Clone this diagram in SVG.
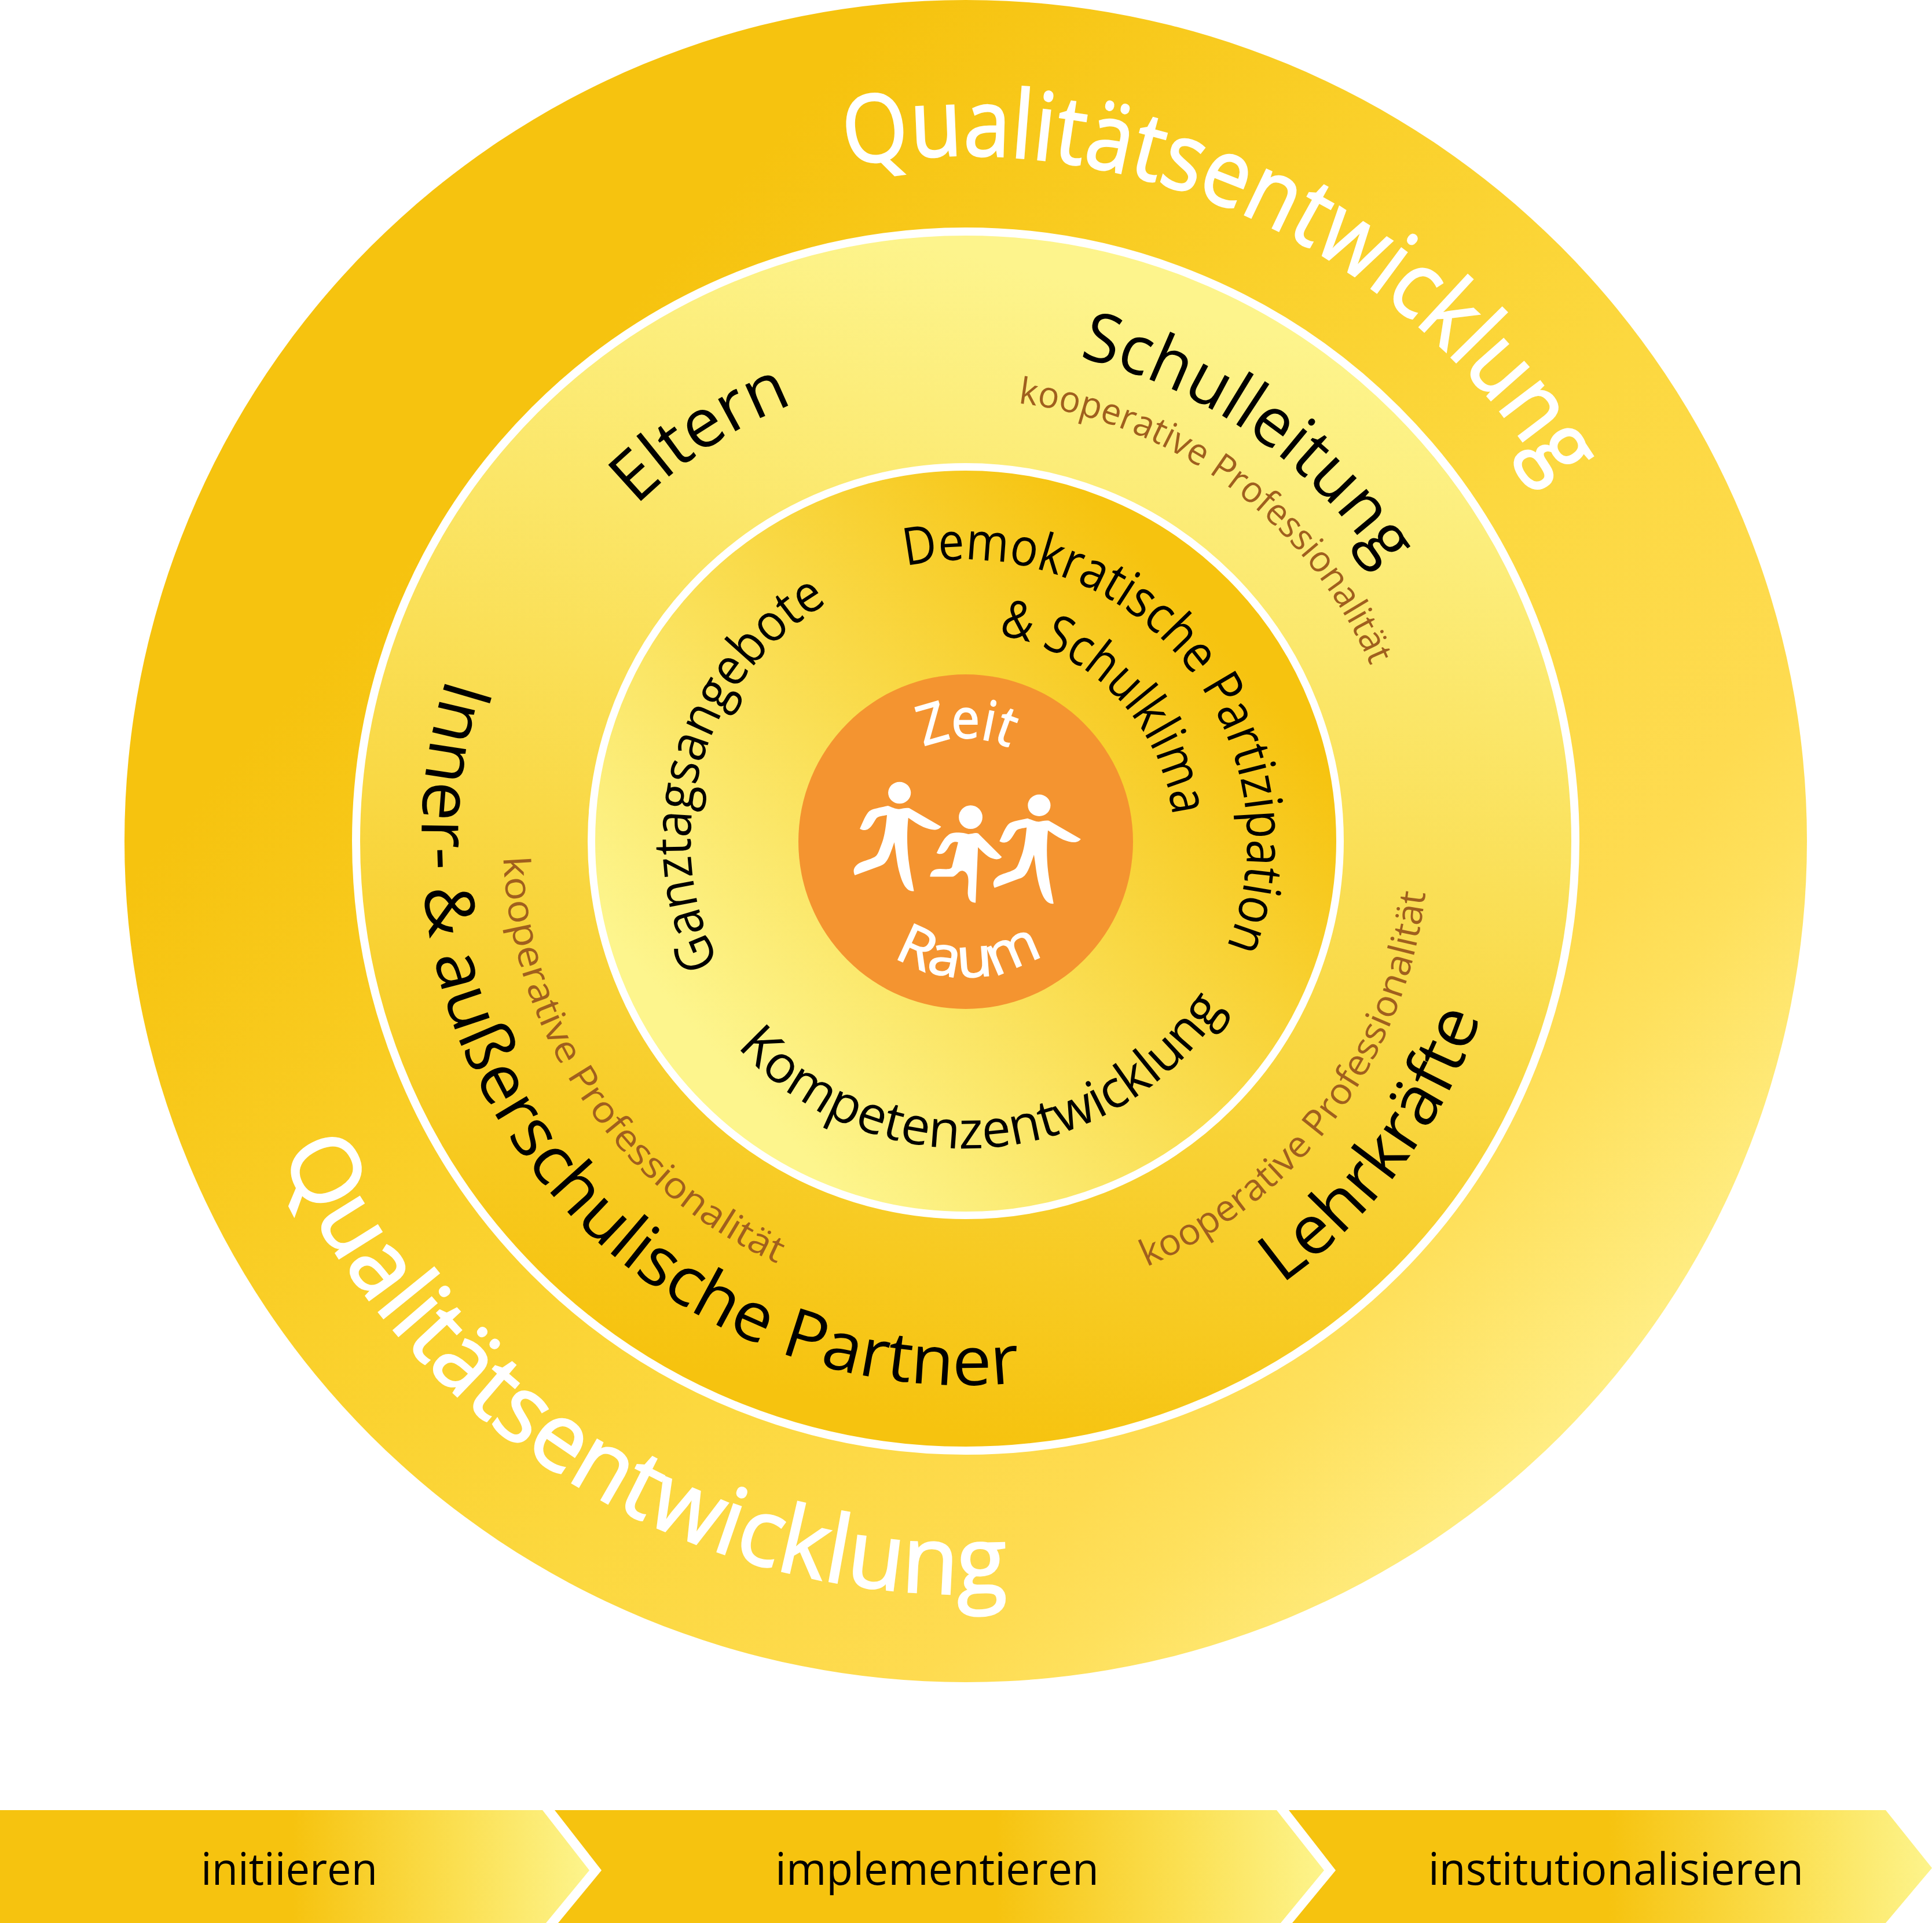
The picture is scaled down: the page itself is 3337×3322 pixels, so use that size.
<svg xmlns="http://www.w3.org/2000/svg" width="3337" height="3322" viewBox="0 0 3337 3322">
<style>
text{font-family:"Open Sans","Noto Sans","Liberation Sans",sans-serif}
.big{font-size:162px;fill:#fff;stroke:#fff;stroke-width:3}
.mid{font-size:118px;fill:#000}
.sm{font-size:63px;fill:#a05f1e}
.in{font-size:90px;fill:#000}
.core{font-size:95px;fill:#fff;stroke:#fff;stroke-width:2}
.st{font-size:76px;fill:#000}
</style>
<defs>
<linearGradient id="gO" gradientUnits="userSpaceOnUse" x1="850" y1="800" x2="2800" y2="2500"><stop offset="0" stop-color="#f6c30f"/><stop offset=".29" stop-color="#fad02a"/><stop offset=".52" stop-color="#fcd83f"/><stop offset=".75" stop-color="#fedb50"/><stop offset=".82" stop-color="#fee05c"/><stop offset="1" stop-color="#fff08c"/></linearGradient>
<linearGradient id="gM" gradientUnits="userSpaceOnUse" x1="2020" y1="530" x2="1530" y2="2450"><stop offset="0" stop-color="#fdf48c"/><stop offset="1" stop-color="#f6c30f"/></linearGradient>
<linearGradient id="gI" gradientUnits="userSpaceOnUse" x1="2040" y1="1025" x2="1190" y2="1770"><stop offset="0" stop-color="#f6c30f"/><stop offset="1" stop-color="#fdf58d"/></linearGradient>
<linearGradient id="gA1" gradientUnits="userSpaceOnUse" x1="505" y1="0" x2="1017" y2="0"><stop offset="0" stop-color="#f6c30f"/><stop offset=".55" stop-color="#fbdf50"/><stop offset="1" stop-color="#fdf48c"/></linearGradient>
<linearGradient id="gA2" gradientUnits="userSpaceOnUse" x1="1720" y1="0" x2="2287" y2="0"><stop offset="0" stop-color="#f6c30f"/><stop offset=".55" stop-color="#fbdf50"/><stop offset="1" stop-color="#fdf48c"/></linearGradient>
<linearGradient id="gA3" gradientUnits="userSpaceOnUse" x1="2778" y1="0" x2="3337" y2="0"><stop offset="0" stop-color="#f6c30f"/><stop offset=".55" stop-color="#fbdf50"/><stop offset="1" stop-color="#fdf48c"/></linearGradient>
<path id="c1184" d="M1668 269A1184 1184 0 1 1 1668 2637A1184 1184 0 1 1 1668 269"/>
<path id="a1300" d="M1668 2753A1300 1300 0 1 0 1668 153A1300 1300 0 1 0 1668 2753"/>
<path id="c858" d="M1668 595A858 858 0 1 1 1668 2311A858 858 0 1 1 1668 595"/>
<path id="c762" d="M1668 691A762 762 0 1 1 1668 2215A762 762 0 1 1 1668 691"/>
<path id="c812" d="M1668 641A812 812 0 1 1 1668 2265A812 812 0 1 1 1668 641"/>
<path id="a940" d="M1668 2393A940 940 0 1 0 1668 513A940 940 0 1 0 1668 2393"/>
<path id="a799" d="M1668 2252A799 799 0 1 0 1668 654A799 799 0 1 0 1668 2252"/>
<path id="c486" d="M1668 967A486 486 0 1 1 1668 1939A486 486 0 1 1 1668 967"/>
<path id="c360" d="M1668 1093A360 360 0 1 1 1668 1813A360 360 0 1 1 1668 1093"/>
<path id="c475" d="M1668 978A475 475 0 1 1 1668 1928A475 475 0 1 1 1668 978"/>
<path id="a531" d="M1668 1984A531 531 0 1 0 1668 922A531 531 0 1 0 1668 1984"/>
<path id="c178" d="M1668 1275A178 178 0 1 1 1668 1631A178 178 0 1 1 1668 1275"/>
<path id="a235" d="M1668 1688A235 235 0 1 0 1668 1218A235 235 0 1 0 1668 1688"/>
<g id="adult">
<ellipse cx="499" cy="538" rx="48" ry="46"/>
<path d="M331 690C345 660 355 630 372 615C385 605 420 600 450 593C465 598 480 607 497 607C510 606 525 600 540 603L675 681C660 702 630 695 600 683C575 672 555 657 536 644C530 700 530 760 537 820C543 870 552 910 560 954C535 958 515 935 500 880C488 840 484 790 477 747C465 780 455 815 440 832C432 842 425 845 410 850L310 887C300 868 305 850 330 835C350 825 385 818 400 805C410 795 415 775 425 750C438 715 442 670 446 632C430 635 410 637 402 645C390 660 385 680 365 692C353 698 342 696 331 690Z"/>
</g>
</defs>
<rect width="3337" height="3322" fill="#fff"/>
<g id="ring-outer"><circle cx="1668" cy="1453" r="1453" fill="url(#gO)"/>
<text class="big" transform="rotate(-10 1668 1453)"><textPath href="#c1184" textLength="1420" lengthAdjust="spacingAndGlyphs">Qualitätsentwicklung</textPath></text>
<text class="big" transform="rotate(65.5 1668 1453)"><textPath href="#a1300" textLength="1558" lengthAdjust="spacingAndGlyphs">Qualitätsentwicklung</textPath></text>
</g>
<g id="ring-middle"><circle cx="1668" cy="1453" r="1053" fill="url(#gM)" stroke="#fff" stroke-width="14"/>
<text class="mid" transform="rotate(13.2 1668 1453)"><textPath href="#c858" textLength="652" lengthAdjust="spacingAndGlyphs">Schulleitung</textPath></text>
<text class="sm" transform="rotate(6.8 1668 1453)"><textPath href="#c762" textLength="795" lengthAdjust="spacingAndGlyphs">kooperative Professionalität</textPath></text>
<text class="mid" transform="rotate(-44.5 1668 1453)"><textPath href="#c812" textLength="326" lengthAdjust="spacingAndGlyphs">Eltern</textPath></text>
<text class="mid" transform="rotate(107.5 1668 1453)"><textPath href="#a940" textLength="1858" lengthAdjust="spacingAndGlyphs">Inner- &amp; außerschulische Partner</textPath></text>
<text class="sm" transform="rotate(88 1668 1453)"><textPath href="#a799" textLength="892" lengthAdjust="spacingAndGlyphs">kooperative Professionalität</textPath></text>
<text class="mid" transform="rotate(-35.5 1668 1453)"><textPath href="#a940" textLength="585" lengthAdjust="spacingAndGlyphs">Lehrkräfte</textPath></text>
<text class="sm" transform="rotate(-23 1668 1453)"><textPath href="#a799" textLength="845" lengthAdjust="spacingAndGlyphs">kooperative Professionalität</textPath></text>
</g>
<g id="ring-inner"><circle cx="1668" cy="1453" r="646.5" fill="url(#gI)" stroke="#fff" stroke-width="13"/>
<text class="in" transform="rotate(-12.3 1668 1453)"><textPath href="#c486" textLength="1055" lengthAdjust="spacingAndGlyphs">Demokratische Partizipation</textPath></text>
<text class="in" transform="rotate(9 1668 1453)"><textPath href="#c360" textLength="465" lengthAdjust="spacingAndGlyphs">&amp; Schulklima</textPath></text>
<text class="in" transform="rotate(-116.3 1668 1453)"><textPath href="#c475" textLength="715" lengthAdjust="spacingAndGlyphs">Ganztagsangebote</textPath></text>
<text class="in" transform="rotate(48 1668 1453)"><textPath href="#a531" textLength="975" lengthAdjust="spacingAndGlyphs">Kompetenzentwicklung</textPath></text>
</g>
<g id="core"><circle cx="1668" cy="1454" r="289" fill="#f49430"/>
<text class="core" transform="rotate(-24 1668 1453)"><textPath href="#c178" textLength="152" lengthAdjust="spacingAndGlyphs">Zeit</textPath></text>
<text class="core" transform="rotate(32 1668 1453)"><textPath href="#a235" textLength="272" lengthAdjust="spacingAndGlyphs">Raum</textPath></text>
<g id="runners" fill="#fff" transform="translate(1350 1150) scale(.40816)">
<use href="#adult"/>
<use href="#adult" transform="translate(591 53)"/>
<circle cx="800" cy="641" r="50"/>
<path d="M656 793C670 765 685 730 705 717C725 700 770 707 790 713C805 713 820 705 832 710L932 810C920 825 895 820 875 808C860 798 845 782 831 768L821 1003C800 1004 790 990 788 965C787 940 795 905 786 885C780 870 765 865 757 869C745 875 735 893 722 893L628 893C630 870 645 860 670 860C690 860 715 865 721 852L747 747C730 743 718 748 708 765C697 783 690 797 670 797C665 797 660 795 656 793Z"/>
</g>
</g>
<g id="arrow-1"><path d="M0 3127H937L1018 3231L943 3322H0Z" fill="url(#gA1)"/>
<text class="st" x="347" y="3256" textLength="305" lengthAdjust="spacingAndGlyphs">initiieren</text></g>
<g id="arrow-2"><path d="M958 3127H2205L2287 3231L2212 3322H964L1039 3231Z" fill="url(#gA2)"/>
<text class="st" x="1339" y="3256" textLength="559" lengthAdjust="spacingAndGlyphs">implementieren</text></g>
<g id="arrow-3"><path d="M2226 3127H3257L3337 3227L3257 3322H2232L2307 3231Z" fill="url(#gA3)"/>
<text class="st" x="2467" y="3256" textLength="648" lengthAdjust="spacingAndGlyphs">institutionalisieren</text></g>
</svg>
